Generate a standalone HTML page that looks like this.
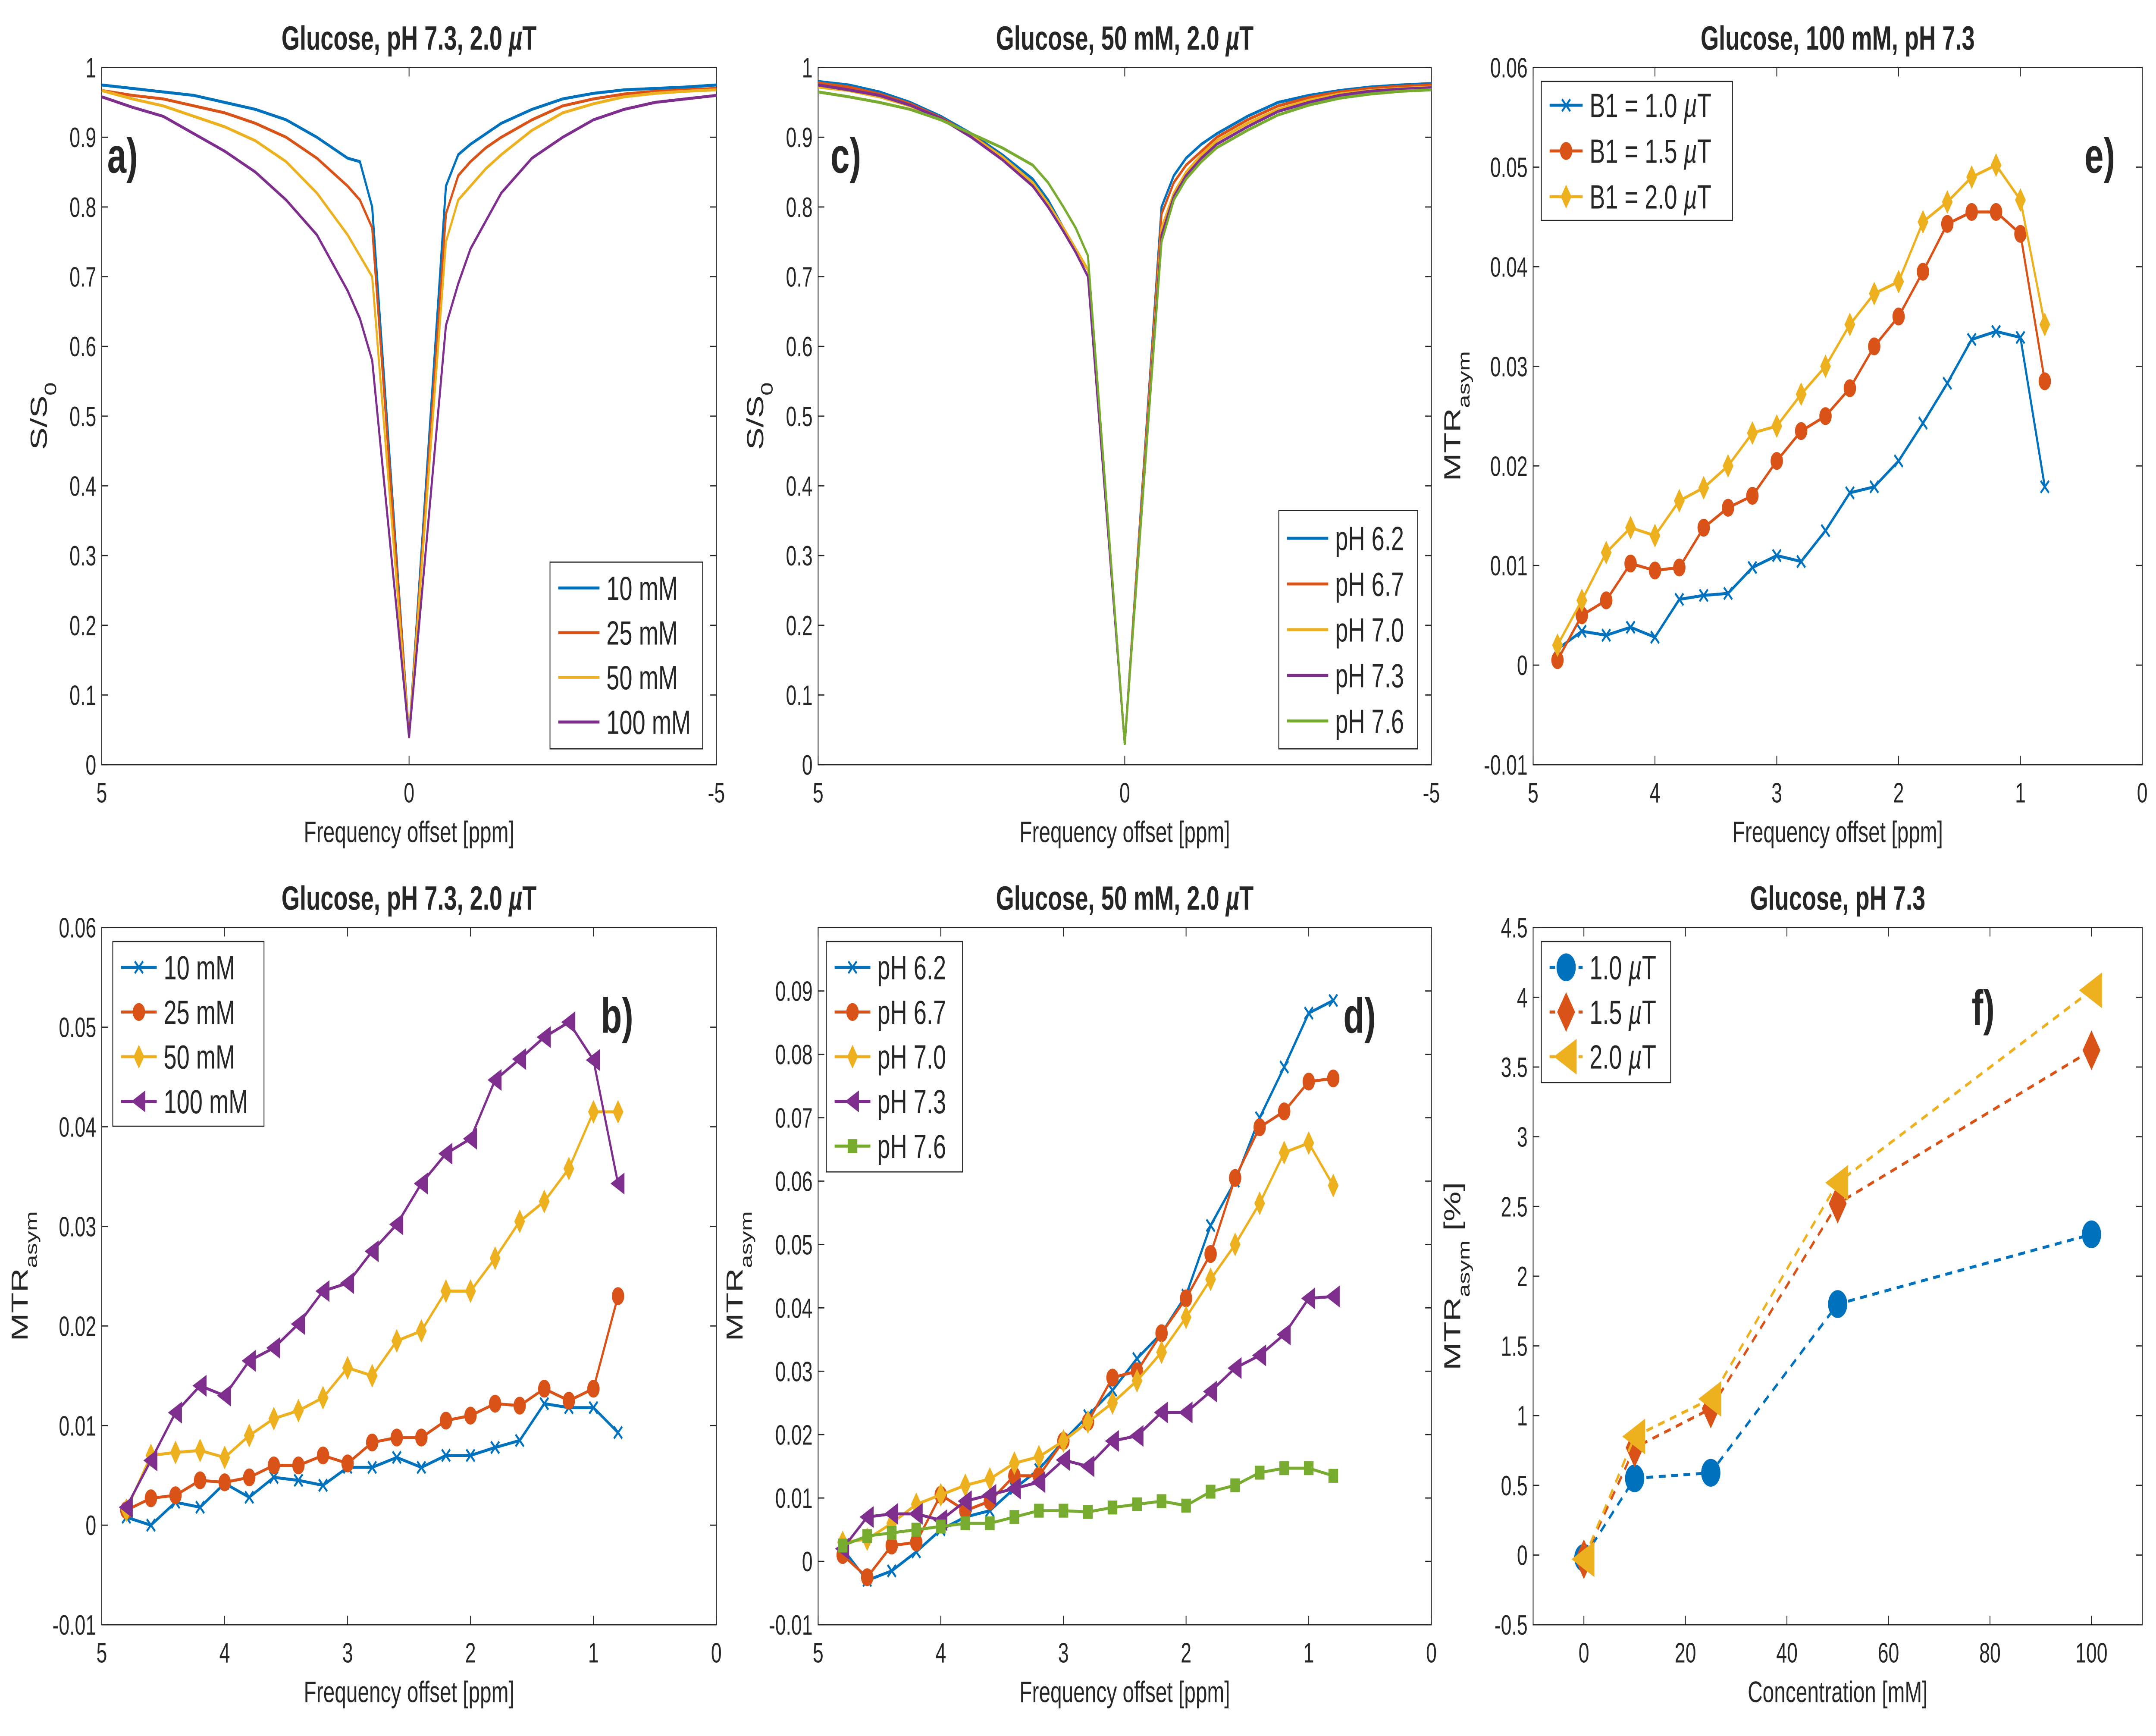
<!DOCTYPE html>
<html><head><meta charset="utf-8"><style>
html,body{margin:0;padding:0;background:#fff;width:100vw;height:100vh;overflow:hidden;}
svg{display:block;width:100vw;height:100vh;}
text{font-family:"Liberation Sans",sans-serif;fill:#262626;}
</style></head><body>
<svg xmlns="http://www.w3.org/2000/svg" viewBox="0 0 1568 874" preserveAspectRatio="none"><g id="fig"></g></svg>
<script>
// ---- data ----
const zOffsets = [5,4.5,4,3.5,3,2.5,2,1.5,1.25,1,0.8,0.6,0,-0.6,-0.8,-1,-1.25,-1.5,-2,-2.5,-3,-3.5,-4,-4.5,-5];
const zA10 = [0.975,0.97,0.965,0.96,0.95,0.94,0.925,0.90,0.885,0.87,0.865,0.80,0.04,0.83,0.875,0.89,0.905,0.92,0.94,0.955,0.963,0.968,0.97,0.972,0.975];
const zA25 = [0.967,0.96,0.955,0.945,0.935,0.92,0.90,0.87,0.85,0.83,0.81,0.77,0.04,0.79,0.845,0.865,0.885,0.9,0.925,0.945,0.955,0.962,0.966,0.968,0.97];
const zA50 = [0.967,0.955,0.945,0.93,0.915,0.895,0.865,0.82,0.79,0.76,0.73,0.70,0.04,0.75,0.81,0.83,0.855,0.875,0.91,0.935,0.948,0.958,0.963,0.966,0.968];
const zA100 = [0.958,0.943,0.93,0.905,0.88,0.85,0.81,0.76,0.72,0.68,0.64,0.58,0.04,0.63,0.69,0.74,0.78,0.82,0.87,0.9,0.925,0.94,0.95,0.955,0.96];
const zC62 = [0.98,0.975,0.965,0.95,0.93,0.905,0.875,0.84,0.81,0.77,0.74,0.71,0.03,0.8,0.845,0.87,0.89,0.905,0.93,0.95,0.96,0.967,0.972,0.975,0.977];
const zC67 = [0.978,0.972,0.962,0.948,0.928,0.903,0.872,0.835,0.805,0.765,0.735,0.71,0.03,0.79,0.835,0.86,0.88,0.9,0.925,0.945,0.957,0.965,0.97,0.973,0.975];
const zC70 = [0.972,0.967,0.958,0.945,0.926,0.902,0.872,0.835,0.805,0.77,0.74,0.71,0.03,0.77,0.82,0.85,0.875,0.895,0.92,0.94,0.953,0.962,0.967,0.97,0.972];
const zC73 = [0.975,0.968,0.96,0.946,0.927,0.9,0.868,0.83,0.8,0.765,0.735,0.70,0.03,0.76,0.815,0.845,0.87,0.89,0.915,0.937,0.95,0.96,0.966,0.969,0.971];
const zC76 = [0.965,0.958,0.95,0.94,0.925,0.905,0.885,0.86,0.835,0.8,0.77,0.73,0.03,0.75,0.81,0.84,0.865,0.885,0.91,0.932,0.946,0.956,0.962,0.966,0.968];
const mOffsets = [4.8,4.6,4.4,4.2,4.0,3.8,3.6,3.4,3.2,3.0,2.8,2.6,2.4,2.2,2.0,1.8,1.6,1.4,1.2,1.0,0.8];
const e10 = [0.0016,0.0034,0.003,0.0038,0.0028,0.0066,0.007,0.0072,0.0098,0.011,0.0104,0.0135,0.0173,0.0179,0.0205,0.0243,0.0283,0.0327,0.0335,0.0329,0.0179];
const e15 = [0.0005,0.005,0.0065,0.0102,0.0095,0.0098,0.0138,0.0158,0.017,0.0205,0.0235,0.025,0.0278,0.032,0.035,0.0395,0.0443,0.0455,0.0455,0.0433,0.0285];
const e20 = [0.002,0.0065,0.0113,0.0138,0.013,0.0165,0.0178,0.02,0.0233,0.024,0.0272,0.03,0.0342,0.0373,0.0385,0.0445,0.0465,0.049,0.0502,0.0467,0.0342];
const b10 = [0.0008,0,0.0023,0.0018,0.0042,0.0028,0.0048,0.0045,0.004,0.0058,0.0058,0.0068,0.0058,0.007,0.007,0.0078,0.0085,0.0122,0.0118,0.0118,0.0093];
const b25 = [0.0015,0.0027,0.003,0.0045,0.0043,0.0048,0.006,0.006,0.007,0.0062,0.0083,0.0088,0.0088,0.0105,0.011,0.0122,0.012,0.0137,0.0125,0.0137,0.023];
const b50 = [0.0015,0.007,0.0073,0.0075,0.0068,0.009,0.0107,0.0115,0.0128,0.0158,0.015,0.0185,0.0195,0.0235,0.0235,0.0268,0.0305,0.0325,0.0358,0.0415,0.0415];
const b100 = [0.0018,0.0065,0.0113,0.014,0.013,0.0165,0.0178,0.0202,0.0235,0.0243,0.0275,0.0302,0.0343,0.0373,0.0388,0.0447,0.0468,0.049,0.0505,0.0467,0.0343];
const d62 = [0.002,-0.003,-0.0015,0.0015,0.005,0.007,0.008,0.0115,0.0145,0.019,0.023,0.027,0.032,0.036,0.042,0.053,0.06,0.07,0.078,0.0865,0.0885];
const d67 = [0.001,-0.0025,0.0025,0.003,0.0105,0.008,0.0095,0.0135,0.0135,0.019,0.022,0.029,0.03,0.036,0.0415,0.0485,0.0605,0.0685,0.071,0.0757,0.0762];
const d70 = [0.003,0.0035,0.006,0.009,0.0105,0.012,0.013,0.0155,0.0165,0.019,0.022,0.025,0.0285,0.033,0.0385,0.0445,0.05,0.0565,0.0645,0.066,0.0593];
const d73 = [0.002,0.007,0.0075,0.0075,0.0065,0.0095,0.0105,0.0115,0.0125,0.016,0.015,0.019,0.0198,0.0235,0.0235,0.0268,0.0305,0.0325,0.0358,0.0415,0.0418];
const d76 = [0.0025,0.004,0.0045,0.005,0.0055,0.006,0.006,0.007,0.008,0.008,0.0078,0.0085,0.009,0.0095,0.0088,0.011,0.012,0.014,0.0147,0.0147,0.0135];
const fConc = [0,10,25,50,100];
const f10 = [-0.02,0.55,0.59,1.8,2.3];
const f15 = [-0.03,0.77,1.05,2.52,3.62];
const f20 = [-0.03,0.85,1.12,2.67,4.05];
const ticksZx = ["5","0","-5"];
const ticksMx = ["5","4","3","2","1","0"];
const ticksFx = ["0","20","40","60","80","100"];

const C = {b:"#0072BD",o:"#D95319",y:"#EDB120",p:"#7E2F8E",g:"#77AC30"};
const NS="http://www.w3.org/2000/svg";
const svg=document.getElementById('fig');
function el(tag,attrs,parent){const e=document.createElementNS(NS,tag);for(const k in attrs)e.setAttribute(k,attrs[k]);(parent||svg).appendChild(e);return e;}
function txt(s,attrs,parent){const t=el('text',attrs,parent);t.textContent=s;return t;}

function marker(g,type,x,y,col,s){
  let m;
  if(type==='x'){m=el('path',{d:`M${x-3} ${y-3}L${x+3} ${y+3}M${x-3} ${y+3}L${x+3} ${y-3}`,stroke:col,'stroke-width':1.2,fill:'none'},g);}
  else if(type==='o'){m=el('circle',{cx:x,cy:y,r:s||4.5,fill:col},g);}
  else if(type==='d'){const r=s||6;m=el('path',{d:`M${x} ${y-r}L${x+r*0.65} ${y}L${x} ${y+r}L${x-r*0.65} ${y}Z`,fill:col},g);}
  else if(type==='t'){const r=s||5.5;m=el('path',{d:`M${x-r} ${y}L${x+r*0.85} ${y-r}L${x+r*0.85} ${y+r}Z`,fill:col},g);}
  else if(type==='s'){m=el('rect',{x:x-3.5,y:y-3.5,width:7,height:7,fill:col},g);}
  
  
}

function panel(o){
  const g=el('g',{});
  
  
  const sx=v=>o.x0+(v-o.xmin)/(o.xmax-o.xmin)*(o.x1-o.x0);
  const sy=v=>o.y1-(v-o.ymin)/(o.ymax-o.ymin)*(o.y1-o.y0);
  const bx=el('rect',{x:o.x0,y:o.y0,width:o.x1-o.x0,height:o.y1-o.y0,fill:'#fff',stroke:'#262626','stroke-width':0.6},g);
  
  o.xt.forEach((lab)=>{const v=parseFloat(lab);const x=sx(v);
    el('line',{x1:x,y1:o.y1,x2:x,y2:o.y1-4.5,stroke:'#262626','stroke-width':0.6},g);
    el('line',{x1:x,y1:o.y0,x2:x,y2:o.y0+4.5,stroke:'#262626','stroke-width':0.6},g);
    const t=txt(lab,{x:x,y:o.y1+19,'font-size':14,'text-anchor':'middle'},g);
    });
  o.yt.forEach((lab)=>{const v=parseFloat(lab);const y=sy(v);
    el('line',{x1:o.x0,y1:y,x2:o.x0+4.5,y2:y,stroke:'#262626','stroke-width':0.6},g);
    el('line',{x1:o.x1,y1:y,x2:o.x1-4.5,y2:y,stroke:'#262626','stroke-width':0.6},g);
    const t=txt(lab,{x:o.x0-4,y:y+5,'font-size':14,'text-anchor':'end'},g);
    });
  const xt=txt(o.xlabel,{x:(o.x0+o.x1)/2,y:o.y1+39,'font-size':15,'text-anchor':'middle'},g);
  
  const yl=el('text',{transform:`translate(${o.ylx},${(o.y0+o.y1)/2}) rotate(-90)`,'font-size':17,'text-anchor':'middle'},g);
  yl.innerHTML=o.ylabel;
  
  const tt=txt(o.title,{x:(o.x0+o.x1)/2,y:o.y0-9,'font-size':17,'font-weight':'bold','text-anchor':'middle',fill:'#000'},g);
  
  tt.innerHTML=o.title.replace('µT','<tspan font-style="italic">µ</tspan>T');
  const lt=txt(o.letter,{x:o.lx,y:o.ly,'font-size':25,'font-weight':'bold',fill:'#000'},g);
  
  o.series.forEach(s=>{
    const pts=s.x.map((xv,i)=>sx(xv).toFixed(2)+','+sy(s.y[i]).toFixed(2)).join(' ');
    const pl=el('polyline',{points:pts,fill:'none',stroke:s.c,'stroke-width':s.w||1.5,'stroke-dasharray':s.dash||'none','stroke-linejoin':'round'},g);
    
    if(s.m) s.x.forEach((xv,i)=>marker(g,s.m,sx(xv),sy(s.y[i]),s.c,s.ms));
  });
  const L=o.legend;
  const lg=el('g',{},g);
  
  el('rect',{x:L.x,y:L.y,width:L.w,height:L.h,fill:'#fff',stroke:'#262626','stroke-width':0.6},lg);
  o.series.forEach((s,i)=>{
    const cy=L.y+L.pad+i*L.dy;
    const eg=el('g',{},lg);
    
    el('line',{x1:L.x+6,y1:cy,x2:L.x+L.ll,y2:cy,stroke:s.c,'stroke-width':s.w||1.5,'stroke-dasharray':s.dash?'4,3':'none'},eg);
    if(s.m) marker(eg,s.m,L.x+6+(L.ll-6)/2,cy,s.c,s.ms);
    const t=txt('',{x:L.x+L.ll+5,y:cy+6,'font-size':17,fill:'#000'},eg);
    t.innerHTML=s.label.replace('µT','<tspan font-style="italic">µ</tspan>T');
  });
}

const S0='S/S<tspan baseline-shift="sub" font-size="12">0</tspan>';
const MTR='MTR<tspan baseline-shift="sub" font-size="12">asym</tspan>';
const FO='Frequency offset [ppm]';
const yt01=["0","0.1","0.2","0.3","0.4","0.5","0.6","0.7","0.8","0.9","1"];
const ytM=["-0.01","0","0.01","0.02","0.03","0.04","0.05","0.06"];

panel({name:'panel-a',x0:74,x1:521,y0:34,y1:385,xmin:5,xmax:-5,ymin:0,ymax:1,xt:ticksZx,yt:yt01,xlabel:FO,ylabel:S0,ylx:34,
 title:'Glucose, pH 7.3, 2.0 µT',letter:'a)',lx:78,ly:87,
 legend:{x:400,y:283,w:111,h:94,pad:13,dy:22.5,ll:36},
 series:[{x:zOffsets,y:zA10,c:C.b,label:'10 mM'},{x:zOffsets,y:zA25,c:C.o,label:'25 mM'},{x:zOffsets,y:zA50,c:C.y,label:'50 mM'},{x:zOffsets,y:zA100,c:C.p,label:'100 mM'}]});

panel({name:'panel-c',x0:595,x1:1041,y0:34,y1:385,xmin:5,xmax:-5,ymin:0,ymax:1,xt:ticksZx,yt:yt01,xlabel:FO,ylabel:S0,ylx:555,
 title:'Glucose, 50 mM, 2.0 µT',letter:'c)',lx:604,ly:87,
 legend:{x:930,y:257,w:101,h:120,pad:14,dy:23,ll:36},
 series:[{x:zOffsets,y:zC62,c:C.b,label:'pH 6.2'},{x:zOffsets,y:zC67,c:C.o,label:'pH 6.7'},{x:zOffsets,y:zC70,c:C.y,label:'pH 7.0'},{x:zOffsets,y:zC73,c:C.p,label:'pH 7.3'},{x:zOffsets,y:zC76,c:C.g,label:'pH 7.6'}]});

panel({name:'panel-e',x0:1115,x1:1558,y0:34,y1:385,xmin:5,xmax:0,ymin:-0.01,ymax:0.06,xt:ticksMx,yt:ytM,xlabel:FO,ylabel:MTR,ylx:1062,
 title:'Glucose, 100 mM, pH 7.3',letter:'e)',lx:1516,ly:87,
 legend:{x:1121,y:41,w:139,h:70,pad:12,dy:23,ll:30},
 series:[{x:mOffsets,y:e10,c:C.b,m:'x',label:'B1 = 1.0 µT'},{x:mOffsets,y:e15,c:C.o,m:'o',label:'B1 = 1.5 µT'},{x:mOffsets,y:e20,c:C.y,m:'d',label:'B1 = 2.0 µT'}]});

panel({name:'panel-b',x0:74,x1:521,y0:467,y1:818,xmin:5,xmax:0,ymin:-0.01,ymax:0.06,xt:ticksMx,yt:ytM,xlabel:FO,ylabel:MTR,ylx:20,
 title:'Glucose, pH 7.3, 2.0 µT',letter:'b)',lx:437,ly:520,
 legend:{x:82,y:474,w:110,h:93,pad:13,dy:22.5,ll:32},
 series:[{x:mOffsets,y:b10,c:C.b,m:'x',label:'10 mM'},{x:mOffsets,y:b25,c:C.o,m:'o',label:'25 mM'},{x:mOffsets,y:b50,c:C.y,m:'d',label:'50 mM'},{x:mOffsets,y:b100,c:C.p,m:'t',label:'100 mM'}]});

panel({name:'panel-d',x0:595,x1:1041,y0:467,y1:818,xmin:5,xmax:0,ymin:-0.01,ymax:0.1,xt:ticksMx,yt:["-0.01","0","0.01","0.02","0.03","0.04","0.05","0.06","0.07","0.08","0.09"],xlabel:FO,ylabel:MTR,ylx:540,
 title:'Glucose, 50 mM, 2.0 µT',letter:'d)',lx:977,ly:520,
 legend:{x:601,y:474,w:99,h:116,pad:13,dy:22.5,ll:32},
 series:[{x:mOffsets,y:d62,c:C.b,m:'x',label:'pH 6.2'},{x:mOffsets,y:d67,c:C.o,m:'o',label:'pH 6.7'},{x:mOffsets,y:d70,c:C.y,m:'d',label:'pH 7.0'},{x:mOffsets,y:d73,c:C.p,m:'t',label:'pH 7.3'},{x:mOffsets,y:d76,c:C.g,m:'s',label:'pH 7.6'}]});

panel({name:'panel-f',x0:1115,x1:1558,y0:467,y1:818,xmin:-10,xmax:110,ymin:-0.5,ymax:4.5,xt:ticksFx,yt:["-0.5","0","0.5","1","1.5","2","2.5","3","3.5","4","4.5"],xlabel:'Concentration [mM]',ylabel:MTR+' [%]',ylx:1062,
 title:'Glucose, pH 7.3',letter:'f)',lx:1434,ly:516,
 legend:{x:1121,y:474,w:94,h:71,pad:13,dy:22.5,ll:30},
 series:[{x:fConc,y:f10,c:C.b,m:'o',ms:7,dash:'5,4',label:'1.0 µT'},{x:fConc,y:f15,c:C.o,m:'d',ms:10,dash:'5,4',label:'1.5 µT'},{x:fConc,y:f20,c:C.y,m:'t',ms:9,dash:'5,4',label:'2.0 µT'}]});
</script>
</body></html>
